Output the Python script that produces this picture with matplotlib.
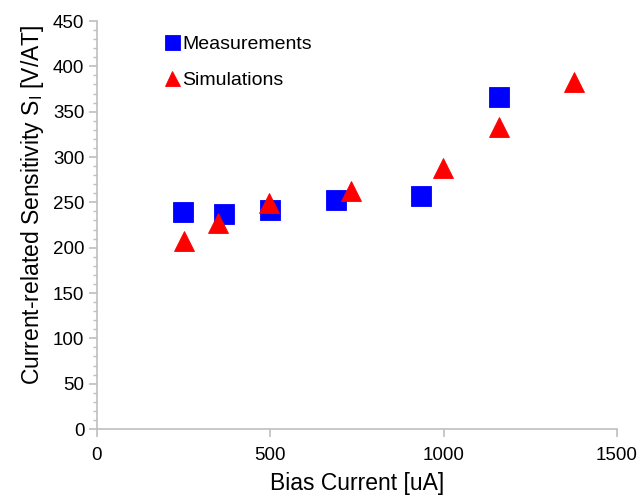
import matplotlib.pyplot as plt
import numpy as np
from matplotlib.ticker import MultipleLocator

plt.rcParams['font.family'] = ['Liberation Sans', 'DejaVu Sans']

# measured points
meas_current = [248, 366, 499, 689, 935, 1160]
meas_sens = [239, 237, 241, 253, 257, 366]

# simulated points
sim_current = [252, 350, 497, 733, 998, 1160, 1376]
sim_sens = [207, 227, 249, 263, 288, 333, 383]

fig = plt.figure(figsize=(6.41, 5.0), dpi=100)
ax = fig.add_axes([0.1513, 0.142, 0.8113, 0.816])

ax.plot(meas_current, meas_sens, 's', color='#0000ff', ms=14.4, mec='#0000ff',
        mew=0.6, linestyle='none', label='Measurements', zorder=3)
ax.plot(sim_current, sim_sens, '^', color='#ff0000', ms=14.4, mec='#ff0000',
        mew=0.6, linestyle='none', label='Simulations', zorder=4)

ax.set_xlim(0, 1500)
ax.set_ylim(0, 450)
ax.xaxis.set_major_locator(MultipleLocator(500))
ax.yaxis.set_major_locator(MultipleLocator(50))
ax.yaxis.set_minor_locator(MultipleLocator(10))

gray = '#bfbfbf'
for s in ['top', 'right']:
    ax.spines[s].set_visible(False)
for s in ['left', 'bottom']:
    ax.spines[s].set_color(gray)
    ax.spines[s].set_linewidth(1.2)

ax.tick_params(axis='both', which='major', direction='out', length=6, width=1.2,
               color=gray, labelsize=13.5, labelcolor='black', pad=3)
ax.tick_params(axis='y', which='minor', direction='out', length=3, width=1.0, color=gray)
ax.tick_params(axis='x', which='major', pad=7)

ax.set_xlabel('Bias Current [uA]', fontsize=16.5, labelpad=6)
ax.set_ylabel(r'Current-related Sensitivity S$_\mathregular{I}$ [V/AT]', fontsize=16.5)
ax.yaxis.set_label_coords(-0.098, 0.55)

ax.legend(loc='upper left', bbox_to_anchor=(0.114, 0.985), frameon=False, fontsize=14,
          markerscale=0.75, handletextpad=0.15, labelspacing=0.95, handlelength=0.8,
          borderaxespad=0)

fig.savefig('out.png', dpi=100)
